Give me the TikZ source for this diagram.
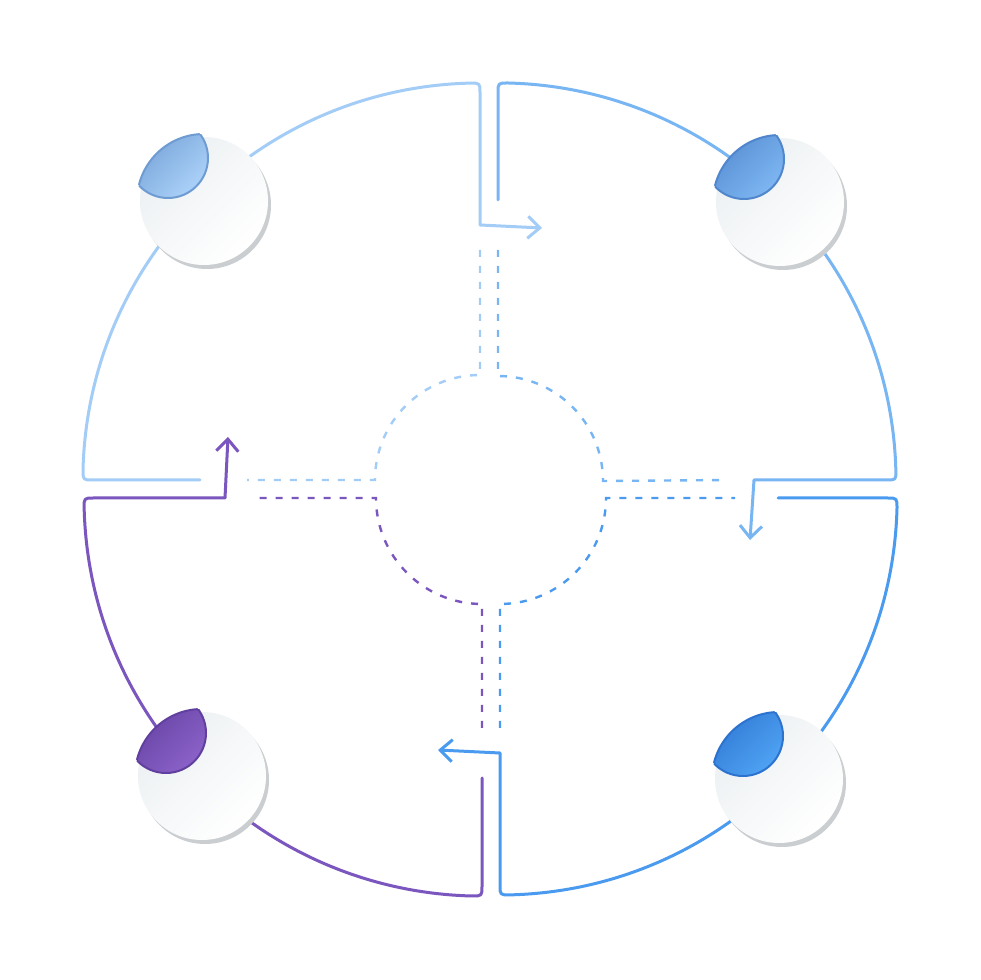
\documentclass[tikz,border=0pt]{standalone}
\usetikzlibrary{arrows.meta}
\definecolor{cA}{HTML}{A3CDF7}
\definecolor{cB}{HTML}{78B5F3}
\definecolor{cC}{HTML}{4A9BF0}
\definecolor{cD}{HTML}{7A56BE}
\definecolor{lfAd}{HTML}{6E9BD2}
\definecolor{lfAl}{HTML}{AAD1F8}
\definecolor{lfBd}{HTML}{4F86CC}
\definecolor{lfBl}{HTML}{7DB6F2}
\definecolor{lfCd}{HTML}{2C72CF}
\definecolor{lfCl}{HTML}{4EA2F3}
\definecolor{lfDd}{HTML}{613F9E}
\definecolor{lfDl}{HTML}{8A61C8}
\definecolor{bdg}{HTML}{ECF0F2}
\definecolor{shd}{HTML}{CBCED0}
\newcommand{\mybadge}[4]{%
  \fill[shd] (#1+3,#2-4) circle[radius=64pt];
  \shade[top color=bdg, bottom color=white, shading angle=45] (#1,#2) circle[radius=64pt];
  \begin{scope}
    \clip (#1,#2) circle[radius=67pt];
    \shade[top color=#3, bottom color=#4, shading angle=45] (#1-36,#2+43) circle[radius=40pt];
    \draw[#3, line width=2pt] (#1-36,#2+43) circle[radius=40pt];
  \end{scope}
  \begin{scope}
    \clip (#1-36,#2+43) circle[radius=40pt];
    \draw[#3, line width=2pt] (#1,#2) circle[radius=67pt];
  \end{scope}
}
\begin{document}
\begin{tikzpicture}[x=1pt,y=1pt,
  solidline/.style={line width=3pt, line cap=round, line join=round},
  dashline/.style={line width=2.4pt, dash pattern=on 7pt off 9pt},
  tiparrow/.style={-{Straight Barb[length=12pt,width=22pt]}}]
\useasboundingbox (0,0) rectangle (980,980);
\fill[white] (0,0) rectangle (980,980);

% solid quadrant outlines
\coordinate (tlS) at (200,500);
\coordinate (tlE) at (542,752);
\draw[solidline,cA,tiparrow] (tlS) -- (93,500) .. controls (83,500) .. (83,510)
  arc[start angle=178.56,end angle=91.44,radius=397pt]
  .. controls (480,897) .. (480,887) -- (480,755) -- (tlE);

\coordinate (trS) at (498,780);
\coordinate (trE) at (750,440);
\draw[solidline,cB,tiparrow] (trS) -- (498,887) .. controls (498,897) .. (508,897)
  arc[start angle=88.56,end angle=1.44,radius=398pt]
  .. controls (896,500) .. (886,500) -- (754,500) -- (trE);

\coordinate (brS) at (778,482);
\coordinate (brE) at (438,230);
\draw[solidline,cC,tiparrow] (brS) -- (887,482) .. controls (897,482) .. (897,472)
  arc[start angle=-1.44,end angle=-88.56,radius=397pt]
  .. controls (500,85) .. (500,95) -- (500,227) -- (brE);

\coordinate (blS) at (482,202);
\coordinate (blE) at (228,543);
\draw[solidline,cD,tiparrow] (blS) -- (482,94) .. controls (482,84) .. (472,84)
  arc[start angle=-91.44,end angle=-178.56,radius=398pt]
  .. controls (84,482) .. (94,482) -- (225,482) -- (blE);

% dashed inner paths
\draw[dashline,cA] (480,730) -- (480,605) arc[start angle=90,end angle=180,radius=105pt] -- (247,500);
\draw[dashline,cB] (498,730) -- (498,604) arc[start angle=90,end angle=0,radius=105pt] -- (727,500);
\draw[dashline,cC] (500,252) -- (500,376) arc[start angle=-90,end angle=0,radius=106pt] -- (735,482);
\draw[dashline,cD] (482,252) -- (482,376) arc[start angle=-90,end angle=-180,radius=106pt] -- (252,482);

% badges
\mybadge{204}{779}{lfAd}{lfAl}
\mybadge{780}{778}{lfBd}{lfBl}
\mybadge{779}{201}{lfCd}{lfCl}
\mybadge{202}{204}{lfDd}{lfDl}
\end{tikzpicture}
\end{document}
